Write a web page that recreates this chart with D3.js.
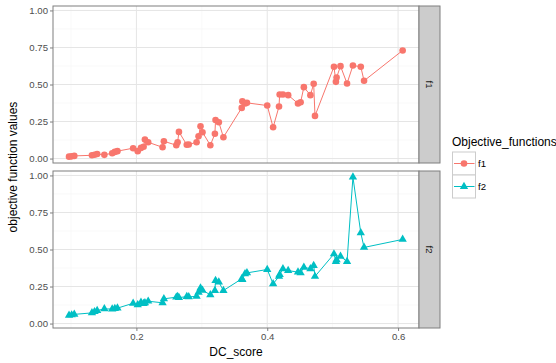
<!DOCTYPE html>
<html>
<head>
<meta charset="utf-8">
<script src="https://cdn.jsdelivr.net/npm/d3@7"></script>
<style>
  body { margin: 0; background: #fff; }
  svg text { font-family: "Liberation Sans", Arial, sans-serif; }
</style>
</head>
<body>
<svg id="chart" width="556" height="363"></svg>
<script>
// values
const dcScore = [0.097, 0.101, 0.105, 0.132, 0.136, 0.140, 0.151, 0.163, 0.167, 0.171,
  0.195, 0.202, 0.207, 0.211, 0.213, 0.218, 0.240, 0.242, 0.261, 0.263, 0.265, 0.277,
  0.280, 0.292, 0.295, 0.298, 0.301, 0.313, 0.320, 0.321, 0.326, 0.333, 0.361, 0.362,
  0.366, 0.369, 0.400, 0.409, 0.418, 0.419, 0.424, 0.432, 0.447, 0.451, 0.456, 0.466,
  0.471, 0.473, 0.502, 0.505, 0.506, 0.512, 0.522, 0.531, 0.543, 0.548, 0.607];
const f1Values = [0.013, 0.015, 0.018, 0.022, 0.026, 0.031, 0.025, 0.036, 0.045, 0.050,
  0.070, 0.050, 0.072, 0.080, 0.128, 0.110, 0.076, 0.117, 0.090, 0.110, 0.180, 0.093,
  0.095, 0.110, 0.150, 0.218, 0.178, 0.090, 0.167, 0.260, 0.245, 0.144, 0.342, 0.387,
  0.372, 0.376, 0.358, 0.211, 0.351, 0.432, 0.432, 0.428, 0.372, 0.380, 0.482, 0.428,
  0.505, 0.288, 0.620, 0.518, 0.547, 0.624, 0.507, 0.628, 0.620, 0.525, 0.730];
const f2Values = [0.055, 0.058, 0.062, 0.072, 0.080, 0.088, 0.099, 0.098, 0.101, 0.104,
  0.137, 0.126, 0.144, 0.135, 0.140, 0.151, 0.140, 0.167, 0.178, 0.182, 0.175, 0.182,
  0.180, 0.184, 0.211, 0.239, 0.225, 0.194, 0.223, 0.290, 0.280, 0.223, 0.302, 0.297,
  0.336, 0.342, 0.365, 0.268, 0.318, 0.330, 0.370, 0.358, 0.347, 0.342, 0.380, 0.370,
  0.392, 0.318, 0.470, 0.419, 0.430, 0.454, 0.419, 0.989, 0.613, 0.514, 0.568];
const seriesNames = ["f1", "f2"];
const seriesColors = ["#F8766D", "#00BFC4"];
const xTicks = [0.2, 0.4, 0.6];
const xMinor = [0.1, 0.3, 0.5];
const yTicks = [0, 0.25, 0.5, 0.75, 1];
const yMinor = [0.125, 0.375, 0.625, 0.875];

const svg = d3.select("#chart");
const left = 53, right = 419, stripW = 21;
const panels = [{ top: 6, bottom: 163 }, { top: 171, bottom: 328 }];
const allValues = [f1Values, f2Values];

const x = d3.scaleLinear().domain([0.0725, 0.632]).range([left, right]);

panels.forEach((p, i) => {
  const y = d3.scaleLinear().domain([-0.03, 1.03]).range([p.bottom, p.top]);
  const g = svg.append("g");

  g.append("rect").attr("x", left).attr("y", p.top)
    .attr("width", right - left).attr("height", p.bottom - p.top).attr("fill", "#fff");

  // grid
  g.selectAll(".ymin").data(yMinor).enter().append("line")
    .attr("x1", left).attr("x2", right).attr("y1", d => y(d)).attr("y2", d => y(d))
    .attr("stroke", "#F5F5F5").attr("stroke-width", 0.6);
  g.selectAll(".xmin").data(xMinor).enter().append("line")
    .attr("y1", p.top).attr("y2", p.bottom).attr("x1", d => x(d)).attr("x2", d => x(d))
    .attr("stroke", "#F5F5F5").attr("stroke-width", 0.6);
  g.selectAll(".ymaj").data(yTicks).enter().append("line")
    .attr("x1", left).attr("x2", right).attr("y1", d => y(d)).attr("y2", d => y(d))
    .attr("stroke", "#E5E5E5").attr("stroke-width", 1);
  g.selectAll(".xmaj").data(xTicks).enter().append("line")
    .attr("y1", p.top).attr("y2", p.bottom).attr("x1", d => x(d)).attr("x2", d => x(d))
    .attr("stroke", "#E5E5E5").attr("stroke-width", 1);

  // data
  const pts = dcScore.map((d, k) => ({ x: d, y: allValues[i][k] })).sort((a, b) => a.x - b.x);
  const color = seriesColors[i];
  g.append("path").datum(pts)
    .attr("d", d3.line().x(d => x(d.x)).y(d => y(d.y)))
    .attr("fill", "none").attr("stroke", color).attr("stroke-width", 1);
  if (i === 0) {
    g.selectAll(".pt").data(pts).enter().append("circle")
      .attr("cx", d => x(d.x)).attr("cy", d => y(d.y)).attr("r", 3.3).attr("fill", color);
  } else {
    g.selectAll(".pt").data(pts).enter().append("path")
      .attr("d", d3.symbol().type(d3.symbolTriangle).size(30))
      .attr("transform", d => `translate(${x(d.x)},${y(d.y)})`).attr("fill", color);
  }

  // border
  g.append("rect").attr("x", left).attr("y", p.top)
    .attr("width", right - left).attr("height", p.bottom - p.top)
    .attr("fill", "none").attr("stroke", "#7F7F7F").attr("stroke-width", 1);

  // y axis
  const ya = g.append("g").attr("transform", `translate(${left},0)`)
    .call(d3.axisLeft(y).tickValues(yTicks).tickFormat(d3.format(".2f")).tickSize(3).tickPadding(2));
  ya.select(".domain").remove();
  ya.selectAll("line").attr("stroke", "#7F7F7F");
  ya.selectAll("text").attr("fill", "#4D4D4D").style("font-size", "9.6px");

  // strip
  g.append("rect").attr("x", right).attr("y", p.top)
    .attr("width", stripW).attr("height", p.bottom - p.top)
    .attr("fill", "#CCCCCC").attr("stroke", "#7F7F7F").attr("stroke-width", 1);
  g.append("text")
    .attr("transform", `translate(${right + stripW / 2},${(p.top + p.bottom) / 2}) rotate(90)`)
    .attr("text-anchor", "middle").attr("dy", "0.35em")
    .style("font-size", "9.6px").attr("fill", "#1A1A1A").text(seriesNames[i]);
});

// x axis
const xa = svg.append("g").attr("transform", `translate(0,${panels[1].bottom})`)
  .call(d3.axisBottom(x).tickValues(xTicks).tickFormat(d3.format(".1f")).tickSize(3).tickPadding(2));
xa.select(".domain").remove();
xa.selectAll("line").attr("stroke", "#7F7F7F");
xa.selectAll("text").attr("fill", "#4D4D4D").style("font-size", "9.6px");

// titles
svg.append("text").attr("x", (left + right) / 2).attr("y", 356)
  .attr("text-anchor", "middle").style("font-size", "12px").attr("fill", "#000").text("DC_score");
svg.append("text")
  .attr("transform", `translate(17,${(panels[0].top + panels[1].bottom) / 2}) rotate(-90)`)
  .attr("text-anchor", "middle").style("font-size", "12px").attr("fill", "#000")
  .text("objective function values");

// legend
const lg = svg.append("g").attr("transform", "translate(452,0)");
lg.append("text").attr("x", 0).attr("y", 146).style("font-size", "12px").attr("fill", "#000")
  .text("Objective_functions");
seriesNames.forEach((name, i) => {
  const ky = 152 + i * 23;
  lg.append("rect").attr("x", 0.5).attr("y", ky).attr("width", 23).attr("height", 23)
    .attr("fill", "#fff").attr("stroke", "#CCCCCC").attr("stroke-width", 1);
  lg.append("line").attr("x1", 2).attr("x2", 22.5).attr("y1", ky + 11.5).attr("y2", ky + 11.5)
    .attr("stroke", seriesColors[i]).attr("stroke-width", 1);
  if (i === 0) {
    lg.append("circle").attr("cx", 12).attr("cy", ky + 11.5).attr("r", 3.3).attr("fill", seriesColors[i]);
  } else {
    lg.append("path").attr("d", d3.symbol().type(d3.symbolTriangle).size(30))
      .attr("transform", `translate(12,${ky + 11.5})`).attr("fill", seriesColors[i]);
  }
  lg.append("text").attr("x", 26).attr("y", ky + 11.5).attr("dy", "0.35em")
    .style("font-size", "9.6px").attr("fill", "#000").text(name);
});
</script>
</body>
</html>
